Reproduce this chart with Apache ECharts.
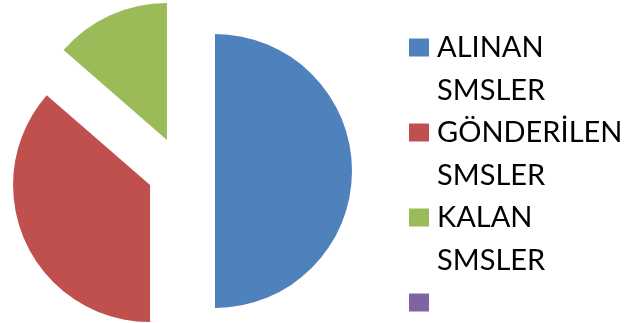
<!DOCTYPE html>
<html>
<head>
<meta charset="utf-8">
<script src="https://cdn.jsdelivr.net/npm/echarts@6/dist/echarts.min.js"></script>
<style>
  html, body { margin: 0; padding: 0; background: #fff; }
  #chart { width: 639px; height: 323px; }
</style>
</head>
<body>
<div id="chart"></div>
<script>
// veriler
var names = ['ALINAN SMSLER', 'GÖNDERİLEN SMSLER', 'KALAN SMSLER', ' '];
var values = [50, 36.4, 13.6, 0];
var colors = ['#4F81BD', '#C0504D', '#9BBB59', '#8064A2'];

var myChart = echarts.init(document.getElementById('chart'));

var pieData = names.map(function (n, i) {
    return { name: n, value: values[i], selected: true, itemStyle: { color: colors[i] } };
});

var option = {
    animation: false,
    legend: {
        orient: 'vertical',
        left: 409,
        top: -17,
        height: 420,
        padding: 0,
        itemGap: -44,
        itemWidth: 20,
        itemHeight: 18,
        icon: 'rect',
        selectedMode: false,
        data: names,
        formatter: function (name) {
            // ilk satir ikonla ayni hizada olsun diye ustte bos satir
            return name === ' ' ? ' \n \n ' : ' \n' + name.replace(' ', '\n');
        },
        textStyle: {
            fontFamily: 'Lato',
            fontSize: 29,
            color: '#000',
            lineHeight: 43,
            padding: [0, 0, 0, 3]
        }
    },
    series: [{
        type: 'pie',
        center: [181, 171],
        radius: 137,
        startAngle: 90,
        clockwise: true,
        selectedMode: 'multiple',
        selectedOffset: 34,
        label: { show: false },
        labelLine: { show: false },
        emphasis: { disabled: true },
        itemStyle: { borderWidth: 0 },
        data: pieData
    }]
};

myChart.setOption(option);
</script>
</body>
</html>
